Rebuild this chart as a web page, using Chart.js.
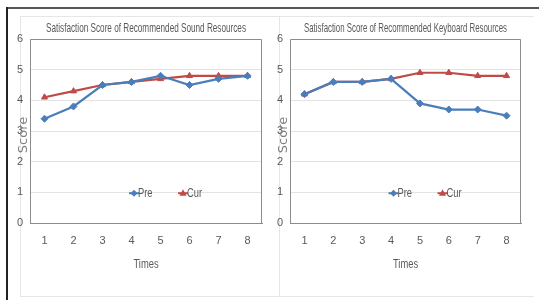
<!DOCTYPE html>
<html>
<head>
<meta charset="utf-8">
<script src="https://cdn.jsdelivr.net/npm/chart.js@4"></script>
<style>
  html, body { margin: 0; padding: 0; background: #fff; }
  body { width: 539px; height: 300px; position: relative; overflow: hidden; }
  .frame-top { position: absolute; left: 7px; top: 7px; width: 532px; height: 2px; background: #555; }
  .frame-left { position: absolute; left: 6px; top: 7px; width: 2px; height: 293px; background: #222; }
  .panel { position: absolute; border: 1px solid #e6e6e6; box-sizing: border-box; }
  .chart-box { position: absolute; }
</style>
</head>
<body>
<div class="frame-top"></div>
<div class="frame-left"></div>
<div class="panel" style="left:20px; top:16px; width:260px; height:281px;"></div>
<div class="panel" style="left:279px; top:16px; width:255px; height:281px; border-right:none;"></div>
<div class="chart-box" style="left:10px; top:16px; width:258px; height:280px;"><canvas id="soundChart"></canvas></div>
<div class="chart-box" style="left:270px; top:16px; width:258px; height:280px;"><canvas id="keyboardChart"></canvas></div>

<script>
// ---- data ----
const times = ['1', '2', '3', '4', '5', '6', '7', '8'];
const yTicks = [0, 1, 2, 3, 4, 5, 6];

const soundPre = [3.4, 3.8, 4.5, 4.6, 4.8, 4.5, 4.7, 4.8];
const soundCur = [4.1, 4.3, 4.5, 4.6, 4.7, 4.8, 4.8, 4.8];
const keyboardPre = [4.2, 4.6, 4.6, 4.7, 3.9, 3.7, 3.7, 3.5];
const keyboardCur = [4.2, 4.6, 4.6, 4.7, 4.9, 4.9, 4.8, 4.8];

const BLUE = '#4a7ebb';
const RED = '#be4b48';
const TEXT = '#595959';
const FONT = '"Liberation Sans", Arial, sans-serif';

// text squeezed to a narrow look (the original uses a condensed face)
function narrowText(ctx, text, x, y, size, squeeze) {
  ctx.save();
  ctx.font = size + 'px ' + FONT;
  ctx.translate(x, y);
  ctx.scale(squeeze, 1);
  ctx.fillText(text, 0, 0);
  ctx.restore();
}

// draws title, axis titles, frame and the in-plot legend
const decorPlugin = {
  id: 'decor',
  afterDraw(chart, args, opts) {
    const { ctx, chartArea: a } = chart;
    const cx = (a.left + a.right) / 2;
    ctx.save();

    // plot frame
    ctx.strokeStyle = '#8c8c8c';
    ctx.lineWidth = 1;
    ctx.beginPath();
    ctx.moveTo(a.left + 0.5, a.bottom);
    ctx.lineTo(a.left + 0.5, a.top + 0.5);
    ctx.lineTo(a.right - 0.5, a.top + 0.5);
    ctx.lineTo(a.right - 0.5, a.bottom);
    ctx.stroke();

    ctx.fillStyle = TEXT;
    ctx.textAlign = 'center';
    ctx.textBaseline = 'middle';
    ctx.font = '13px ' + FONT;
    const w = ctx.measureText(opts.title).width;
    narrowText(ctx, opts.title, cx, a.top - 11, 13, opts.titleWidth / w);
    narrowText(ctx, 'Times', cx, a.bottom + 42, 12, 0.78);

    // rotated y title
    ctx.save();
    ctx.translate(a.left - 6, a.top + 96);
    ctx.rotate(-Math.PI / 2);
    ctx.fillStyle = '#7f7f7f';
    ctx.font = '13px "DejaVu Sans", sans-serif';
    ctx.fillText('Score', 0, 0);
    ctx.restore();

    // legend inside plot
    const ly = chart.scales.y.getPixelForValue(0.97);
    const items = chart.data.datasets;
    const xs = [cx - 12, cx + 37];
    ctx.textAlign = 'left';
    items.forEach((ds, i) => {
      const mx = xs[i];
      ctx.fillStyle = ds.borderColor;
      ctx.strokeStyle = ds.borderColor;
      ctx.lineWidth = 2;
      ctx.beginPath();
      ctx.moveTo(mx - 5, ly);
      ctx.lineTo(mx + 5, ly);
      ctx.stroke();
      ctx.beginPath();
      if (ds.pointStyle === 'triangle') {
        ctx.moveTo(mx, ly - 4);
        ctx.lineTo(mx + 3.5, ly + 2.5);
        ctx.lineTo(mx - 3.5, ly + 2.5);
      } else {
        ctx.moveTo(mx, ly - 3.5);
        ctx.lineTo(mx + 3.5, ly);
        ctx.lineTo(mx, ly + 3.5);
        ctx.lineTo(mx - 3.5, ly);
      }
      ctx.closePath();
      ctx.fill();
      ctx.fillStyle = TEXT;
      narrowText(ctx, ds.label, mx + 4, ly, 12, 0.78);
    });
    ctx.restore();
  }
};

function makeChart(id, title, titleWidth, pre, cur, padRight) {
  return new Chart(document.getElementById(id), {
    type: 'line',
    data: {
      labels: times,
      datasets: [
        { label: 'Pre', data: pre, borderColor: BLUE, backgroundColor: BLUE, borderWidth: 2.2,
          pointStyle: 'rectRot', pointRadius: 3.5, pointBorderWidth: 1, tension: 0 },
        { label: 'Cur', data: cur, borderColor: RED, backgroundColor: RED, borderWidth: 2.2,
          pointStyle: 'triangle', pointRadius: 3.5, pointBorderWidth: 1, tension: 0 }
      ]
    },
    options: {
      responsive: true,
      maintainAspectRatio: false,
      animation: false,
      layout: { padding: { top: 23, right: padRight, left: 0, bottom: 0 } },
      plugins: {
        legend: { display: false },
        tooltip: { enabled: false },
        decor: { title, titleWidth }
      },
      scales: {
        x: {
          offset: true,
          grid: { display: false, drawTicks: false },
          border: { color: '#8c8c8c' },
          ticks: { color: TEXT, font: { family: FONT, size: 11 }, padding: 11, maxRotation: 0 },
          afterFit: (s) => { s.height = 73; }
        },
        y: {
          min: yTicks[0],
          max: yTicks[yTicks.length - 1],
          grid: { color: '#e3e3e3', drawTicks: false },
          border: { display: false },
          ticks: { stepSize: 1, color: TEXT, font: { family: FONT, size: 11 }, padding: 7 },
          afterFit: (s) => { s.width = 20; }
        }
      }
    },
    plugins: [decorPlugin]
  });
}

makeChart('soundChart', 'Satisfaction Score of Recommended Sound Resources', 200, soundPre, soundCur, 6);
makeChart('keyboardChart', 'Satisfaction Score of Recommended Keyboard Resources', 203, keyboardPre, keyboardCur, 7);
</script>
</body>
</html>
